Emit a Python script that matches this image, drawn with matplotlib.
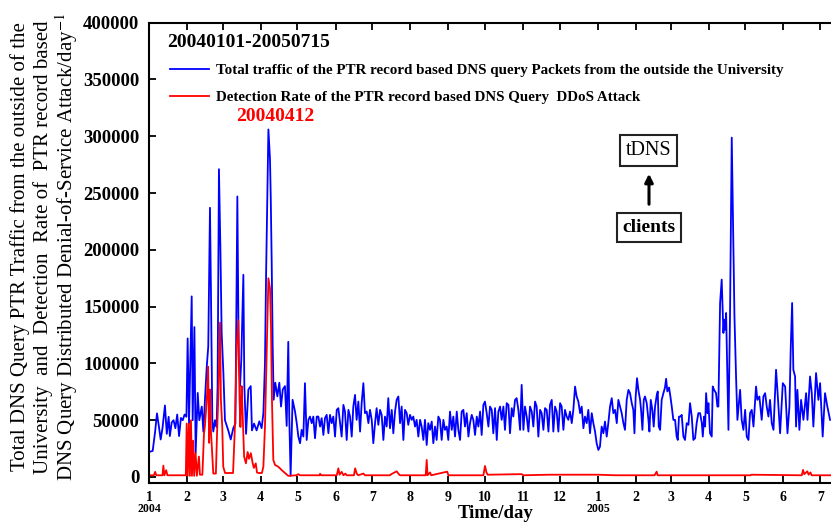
import numpy as np
import matplotlib
matplotlib.use("Agg")
import matplotlib.pyplot as plt
from matplotlib.font_manager import FontProperties

plt.rcParams['font.family'] = ['Liberation Serif', 'DejaVu Serif']
plt.rcParams['mathtext.fontset'] = 'stix'

# Days counted from 2004-01-01
traffic_day = [
    0, 3, 5, 6.5, 8, 9.5, 11, 13, 14.5, 16, 17, 18.5, 20, 21.5, 23, 24.5, 26, 27.5, 29, 30.5,
    31.5, 32.6, 34.8, 35.6, 37, 38, 39.7, 41, 43, 44.3, 45.6, 47, 48.3, 49.7, 50.5, 51.6, 52.4,
    53.8, 55.1, 55.9, 57, 58.2, 59.2,
    60.6, 61.9, 64.6, 66.6, 68.7, 70.4, 72, 73.1, 74.2, 75.2, 76.9, 77.7, 79.1, 81, 82.9, 83.9,
    85.6, 87.7, 89.9, 91.8,
    93.2, 94.5, 95.4, 97.3, 98.6, 99.2, 100, 100.8, 101.6, 102.9, 104.6, 106.2, 107.6, 109,
    110.8, 112.2, 113.5, 114.3, 115.4, 117,
    119.0, 120.4, 121.7, 123.1, 124.4, 125.8, 127.1, 128.5, 129.9, 131.2, 132.6, 133.9, 135.3,
    136.7, 138.0, 139.4, 140.7, 142.1, 143.4, 144.8, 146.2, 147.5, 148.9, 150.2, 151.6, 153.0,
    154.3, 155.7, 157.0, 158.4, 159.7, 161.1, 162.5, 163.8, 165.2, 166.5, 167.9, 169.2, 170.6,
    172.0, 173.3, 174.7, 176.0, 177.4, 178.8, 180.1, 181.5, 182.8, 184.2, 185.5, 186.9, 188.3,
    189.6, 191.0, 192.3, 193.7, 195.0, 196.4, 197.8, 199.1, 200.5, 201.8, 203.2, 204.6, 205.9,
    207.3, 208.6, 210.0, 211.3, 212.7, 214.1, 215.4, 216.8, 218.1, 219.5, 220.9, 222.2, 223.6,
    224.9, 226.3, 227.6, 229.0, 230.4, 231.7, 233.1, 234.4, 235.8, 237.1, 238.5, 239.9, 241.2,
    242.6, 243.9, 245.3, 246.7, 248.0,
    249.4, 250.8, 252.1, 253.5, 254.8, 256.2, 257.5, 258.9, 260.3, 261.6, 263.0, 264.3, 265.7,
    267.1, 268.4, 269.8, 271.1, 272.5, 273.8, 275.2, 276.6, 277.9, 279.3, 280.6, 282.0, 283.4,
    284.7, 286.1, 287.4, 288.8, 290.1, 291.5, 292.9, 294.2, 295.6, 296.9, 298.3, 299.6, 301.0,
    302.4, 303.7, 305.1, 306.4, 307.8, 309.2, 310.5, 311.9, 313.2, 314.6, 315.9, 317.3, 318.7,
    320.0, 321.4, 322.7, 324.1, 325.5, 326.8, 328.2, 329.5, 330.9, 332.2, 333.6, 335.0, 336.3,
    337.7, 339.0, 340.4, 341.7, 343.1, 344.5, 345.8, 347.2, 348.5, 349.9, 351.3, 352.6, 354.0,
    355.3, 356.7, 358.0, 359.4, 360.8, 362.1, 363.5, 364.8, 366.2, 367.5, 368.9, 370.3, 371.6,
    373.0, 374.3, 375.7, 377.1, 378.4,
    379.8, 381.2, 382.5, 383.9, 385.2, 386.6, 387.9, 389.3, 390.7, 392.0, 393.4, 394.7, 395.6,
    396.6, 397.7, 398.8, 400.2, 401.0, 402.1, 403.2, 404.2, 405.6, 407.0, 407.8, 408.9, 410.2,
    411.3, 412.4, 413.8, 414.6, 415.4, 416.5, 417.8, 419.2, 420.5, 421.4, 422.4, 423.8, 424.9,
    426.0, 427.3, 428.7, 430.0, 430.9, 431.9, 433.3, 434.1, 435.5, 436.8, 438.2, 439.6, 440.9,
    442.3, 443.6, 445.0, 446.3, 447.7,
    449.1, 450.5, 451.3, 452.4, 453.2, 454.0, 455.1, 455.9, 457.2, 458.6, 459.4, 460.5, 462.1,
    463.2, 464.0, 465.4, 466.7, 468.1, 468.7, 469.5, 470.3, 472.2, 473.5, 474.9, 476.3, 477.1,
    478.4, 479.5, 481.7, 483.0, 484.4, 485.8, 487.1, 488.5, 489.8, 491.2, 492.6, 494.7, 495.8,
    497.4, 499.3, 500.7, 502.1, 503.4, 504.8, 506.1, 507.5, 508.9, 511.0, 512.1, 514.3, 516.5,
    518.4, 520.3, 521.9, 523.0, 524.1, 525.1, 526.5, 527.3, 528.4, 530.0, 531.4, 533.3, 535.5,
    536.6, 538.7, 540.1, 541.4, 543.6, 545.5, 546.9, 549.0, 550.9, 552.8, 555.0,
]

# Total PTR query packets per day
traffic = [
    22000, 23000, 40000, 56000, 45000, 33000, 43000, 63000, 38000, 53000, 36000, 48000, 50000,
    43000, 55000, 36000, 52000, 50000, 55000, 53000,
    122000, 47000, 159000, 50000, 132000, 21000, 74000, 50000, 62000, 40000, 68000, 96000,
    115000, 237000, 162000, 50000, 40000, 50000, 44000, 80000, 271000, 200000, 127000,
    92000, 50000, 41000, 33000, 43000, 47000, 247000, 106000, 80000, 103000, 178000, 80000,
    38000, 77000, 80000, 41000, 47000, 41000, 49000, 43000,
    56000, 100000, 177000, 306000, 280000, 247000, 188000, 115000, 68000, 83000, 71000, 83000,
    62000, 77000, 80000, 45000, 119000, 53000, 1000, 68000,
    57600, 47400, 35600, 29700, 41500, 35600, 82600, 32600, 50300, 53200,
    47400, 53200, 34100, 53200, 53200, 44400, 51800, 37000, 51800, 54700,
    38500, 54700, 47400, 53200, 35600, 59100, 60600, 47400, 35600, 63500,
    57600, 32600, 59100, 53200, 35600, 62000, 72300, 50300, 66400, 40000,
    65000, 82600, 56200, 57600, 47400, 59100, 50300, 29700, 47400, 60600,
    45900, 59100, 54700, 32600, 53200, 44400, 69400, 42900, 59100, 38500,
    57600, 67900, 70900, 47400, 62000, 32600, 59100, 56200, 45900, 54700,
    50300, 53200, 44400, 50300, 35600, 50300, 44400, 32600, 50300, 28200,
    47400, 41500, 48800, 29700, 44400, 32600, 53200, 50300, 32600, 50300,
    41500, 44400, 32600, 57600, 41500, 53200,
    35600, 57600, 41500, 32600, 57600, 59100, 44400, 56200, 35600, 47400,
    54700, 50300, 37000, 53200, 44400, 57600, 37000, 63500, 66400, 56200,
    44400, 62000, 59100, 38500, 60600, 32600, 57600, 62000, 50300, 62000,
    41500, 65000, 63500, 38500, 60600, 53200, 67900, 69400, 59100, 41500,
    81100, 41500, 62000, 53200, 40000, 62000, 57600, 44400, 66400, 62000,
    35600, 59100, 56200, 41500, 60600, 59100, 40000, 63500, 67900, 40000,
    62000, 57600, 40000, 65000, 62000, 41500, 59100, 53200, 50300, 57600,
    47400, 59100, 79600, 70900, 66400, 56200, 62000, 42900, 53200, 47400,
    59100, 38500, 56200, 47400, 40000, 29700, 23800, 26700, 44400, 38500,
    48800, 35600, 47400, 62000, 69400, 56200,
    59100, 47400, 67900, 62000, 56200, 47400, 41500, 67900, 76700, 73800,
    65000, 59100, 38500, 70900, 87000, 76700, 67900, 59100, 41500, 67900,
    70900, 65000, 50300, 40000, 67900, 59100, 44400, 62000, 72300, 75300,
    44400, 41500, 67900, 73800, 78800, 86500, 75300, 78800, 70900, 62000,
    50300, 50300, 35600, 32600, 53200, 53200, 54700, 35600, 32600, 47400,
    45900, 65000, 53200, 32600, 34100, 47400, 56200,
    56200, 47400, 35600, 53200, 44400, 73800, 56200, 65000, 38500, 35600,
    79700, 76700, 73800, 62000, 62000, 153200, 173800, 126800, 138500, 129700,
    144400, 41500, 144400, 298800, 198800, 141400, 88500, 50300, 76700, 50300,
    41500, 59100, 35600, 32600, 56200, 59100, 44400, 79700, 67900, 70900,
    50300, 70900, 73800, 62000, 53200, 67900, 47400, 41500, 94400, 76700,
    38500, 82600, 79700, 38500, 62000, 115000, 153200, 94400, 88500, 44400,
    76700, 41500, 67900, 50300, 73800, 50300, 88500, 73800, 44400, 91500,
    67900, 82600, 35600, 73800, 62000, 50300,
]

ddos_day = [
    0, 4, 5, 6, 11, 11.7, 12.5, 14, 15, 30,
    30.7, 31.5, 32.5, 33.3, 34.2, 35, 36, 36.8, 38, 39, 40.7, 41.5, 43.5, 44.8, 45.5, 46.5,
    47.2, 48.2, 49, 49.7, 50.5, 52.4, 54.5, 55.5, 56.5, 57.9, 58.6, 59.7, 60.5, 62,
    68.5, 70, 71.4, 72.8, 73.8, 74.5, 75.5, 76.3, 77.5, 79, 80.4, 81.5, 83, 84.5, 85.5, 87,
    88, 89, 92,
    93.2, 94.5, 95.9, 97.3, 98.6, 99.4, 100.2, 101.3, 102.7, 105.4, 108, 110.8, 113.5,
    120, 121.7, 123, 139, 139.4, 140.5, 153, 154.3, 155.3, 157, 158.5, 160, 161, 167, 168,
    169.3, 170.5, 174.7, 176, 196.4, 197.5, 201.8, 203.2, 204.5, 225.5, 226.3, 227, 229, 230,
    243, 244, 272.5, 273.8, 275, 276, 303.7, 305, 326, 335, 366, 380, 412, 413.7, 414.5, 490,
    491, 532, 533, 534, 536.5, 537.5, 539, 540, 556,
]

# Detected PTR-query DDoS attack rate per day
ddos_rate = [
    1500, 1500, 4500, 1500, 1500, 10000, 1500, 6000, 1500, 1500,
    47000, 1000, 47000, 1000, 50000, 1000, 32000, 1000, 21000, 1000, 18000, 2000, 2000, 38000,
    44000, 59000, 71000, 97000, 30000, 77000, 40000, 3000, 3000, 40000, 71000, 136000, 68000,
    44000, 9000, 3500,
    3500, 44000, 115000, 138000, 68000, 44000, 80000, 56000, 18000, 12000, 22000, 16000, 21000,
    12000, 8000, 12000, 4000, 3500, 3500,
    9000, 44000, 109000, 175000, 166000, 133000, 68000, 15000, 10600, 9000, 6200, 3500, 1000,
    1500, 2500, 1500, 1500, 2800, 1500, 1500, 7600, 2000, 4500, 1500, 3000, 1500, 1500, 7600,
    3000, 1500, 3000, 1500, 1500, 2500, 5000, 3000, 1500, 1500, 15000, 1500, 4000, 1500,
    4700, 1500, 1500, 9700, 4000, 2000, 2500, 1500, 2000, 2000, 2000, 1500, 1500, 4700, 1500,
    1500, 2000, 1500, 6200, 2500, 5000, 2000, 4000, 1500, 1500,
]

y_ticks = list(range(0, 400001, 50000))
traffic_label = "Total traffic of the PTR record based DNS query Packets from the outside the University"
ddos_label = "Detection Rate of the PTR record based DNS Query  DDoS Attack"
period_text = "20040101-20050715"
peak_text = "20040412"
ylabel_lines = [
    "Total DNS Query PTR Traffic from the outside of the",
    "University  and  Detection  Rate of  PTR record based",
    r"DNS Query Distributed Denial-of-Service Attack/day$^{-1}$",
]

W, H = 831, 525
fig = plt.figure(figsize=(W / 100, H / 100), dpi=100)
ax = fig.add_axes([149 / W, 1 - 483 / H, (832.5 - 149) / W, (483 - 22.7) / H])

ax.plot(traffic_day, traffic, color='#0000ff', lw=1.3, label=traffic_label)
ax.plot(ddos_day, ddos_rate, color='#ff0000', lw=1.3, label=ddos_label)

ax.set_xlim(0, 557)
ax.set_ylim(-5300, 400000)

month_starts = np.arange(np.datetime64('2004-01'), np.datetime64('2005-08'), dtype='datetime64[M]')
month_pos = (month_starts.astype('datetime64[D]') - np.datetime64('2004-01-01')).astype(int)
month_lbl = [str(int(str(m)[5:7])) for m in month_starts]
ax.set_xticks(month_pos)
ax.set_xticklabels(month_lbl, fontsize=10, fontweight='bold')
ax.set_yticks(y_ticks)
ax.set_yticklabels([str(v) for v in y_ticks], fontsize=13.5, fontweight='bold')

ax.tick_params(axis='x', direction='in', top=True, length=5, width=1.3, pad=6)
ax.tick_params(axis='y', direction='in', right=False, length=5, width=1.3, pad=7)
for s in ax.spines.values():
    s.set_linewidth(1.5)

# year markers below January ticks
for pos, m in zip(month_pos, month_starts):
    if str(m).endswith('-01'):
        ax.text(pos, -0.0565, str(m)[:4], transform=ax.get_xaxis_transform(),
                ha='center', va='center', fontsize=8.5, fontweight='bold')

ax.text(0.026, 0.958, period_text, transform=ax.transAxes, fontsize=14,
        fontweight='bold', va='center', ha='left')

leg = ax.legend(loc='upper left', bbox_to_anchor=(0.0307, 0.911), frameon=False,
                prop=FontProperties(family='Liberation Serif', weight='bold', size=10.8),
                handlelength=2.6, handletextpad=0.47, labelspacing=0.89,
                borderpad=0, borderaxespad=0)

ax.text(103, 317500, peak_text, color='#ff0000', fontsize=14, fontweight='bold',
        ha='center', va='center')

fig.text(648.5 / W, 1 - 150.5 / H, 'tDNS', fontsize=14.5, ha='center', va='center',
         bbox=dict(boxstyle='square,pad=0.3', fc='white', ec='#222222', lw=1.5))
fig.text(649 / W, 1 - 227.5 / H, 'clients', fontsize=14, fontweight='bold', ha='center',
         va='center', bbox=dict(boxstyle='square,pad=0.3', fc='white', ec='#222222', lw=1.5))
ax.annotate('', xy=(649 / W, 1 - 171 / H), xytext=(649 / W, 1 - 207 / H),
            xycoords='figure fraction', textcoords='figure fraction',
            arrowprops=dict(arrowstyle='-|>', color='black', lw=2.2, mutation_scale=12))

fig.text(496 / W, 1 - 514 / H, 'Time/day', fontsize=13.5, fontweight='bold',
         ha='center', va='center')

for xc, line in zip([20, 43.5, 67], ylabel_lines):
    fig.text(xc / W, 1 - 247 / H, line, rotation=90, fontsize=15, ha='center', va='center')

fig.savefig('out.png', dpi=100)
